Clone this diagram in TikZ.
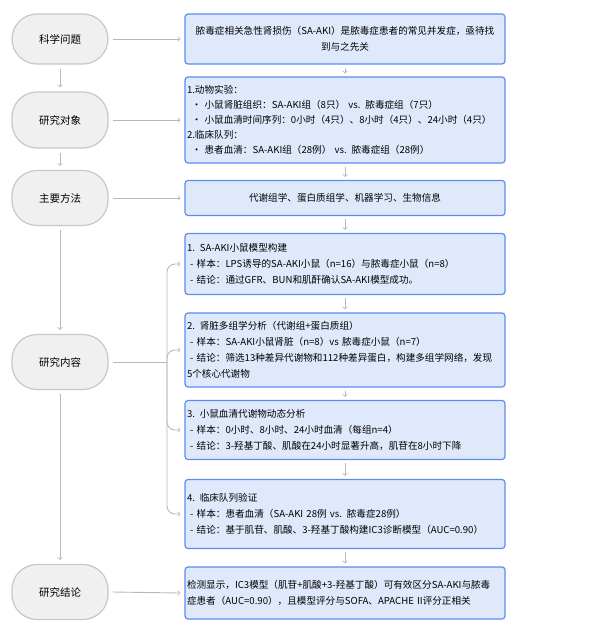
\documentclass[tikz,border=0pt]{standalone}
\usepackage{fontspec}
\setmainfont{Noto Sans CJK SC}
\XeTeXlinebreaklocale "zh"
\XeTeXlinebreakskip=0pt
\usepackage{tikz}
\usetikzlibrary{calc}
\usetikzlibrary{arrows}
\usetikzlibrary{positioning}
\definecolor{boxfill}{RGB}{224, 233, 252}
\definecolor{boxline}{RGB}{92, 140, 238}
\definecolor{pillfill}{RGB}{240, 240, 240}
\definecolor{pillline}{RGB}{200, 200, 200}
\definecolor{arrowgray}{RGB}{185, 185, 185}
\tikzset{
    pill/.style={draw=pillline, fill=pillfill, line width=1.2pt, rounded corners=25pt,
                 minimum width=96pt, font=\fontsize{10.5}{12}\selectfont},
    infobox/.style={draw=boxline, fill=boxfill, line width=1.2pt, rounded corners=3pt,
                    minimum width=320pt, text width=316pt, inner xsep=2pt,
                    font=\fontsize{9.6}{16}\selectfont},
    flow/.style={draw=arrowgray, line width=0.9pt, -to}
}

\begin{document}
\begin{tikzpicture}[x=1pt, y=-1pt]
            \useasboundingbox (0,0) rectangle (600,634);
            % left column
            \node[pill, minimum height=50pt] (q1) at (60, 39)  {科学问题};
            \node[pill, minimum height=56pt] (q2) at (60, 120) {研究对象};
            \node[pill, minimum height=55pt] (q3) at (60, 198) {主要方法};
            \node[pill, minimum height=55pt] (q4) at (60, 362) {研究内容};
            \node[pill, minimum height=55pt] (q5) at (60, 592) {研究结论};
            % right column
            \node[infobox, align=center, minimum height=50pt] (b1) at (345, 39)
                 {脓毒症相关急性肾损伤（SA-AKI）是脓毒症患者的常见并发症，亟待找\\到与之先关};
            \node[infobox, align=left, minimum height=86pt, font=\fontsize{9.6}{15}\selectfont] (b2) at (345, 120)
                 {1.动物实验：\\
                  \ \,• 小鼠肾脏组织：SA-AKI组（8只） vs. 脓毒症组（7只）\\
                  \ \,• 小鼠血清时间序列：0小时（4只）、8小时（4只）、24小时（4只）\\
                  2.临床队列：\\
                  \ \,• 患者血清：SA-AKI组（28例） vs. 脓毒症组（28例）};
            \node[infobox, align=center, minimum height=35pt] (b3) at (345, 198)
                 {代谢组学、蛋白质组学、机器学习、生物信息};
            \node[infobox, align=left, minimum height=61pt] (b4) at (345, 264)
                 {1. SA-AKI小鼠模型构建\\
                  \ - 样本：LPS诱导的SA-AKI小鼠（n=16）与脓毒症小鼠（n=8）\\
                  \ - 结论：通过GFR、BUN和肌酐确认SA-AKI模型成功。};
            \node[infobox, align=left, minimum height=74pt] (b5) at (345, 350)
                 {2. 肾脏多组学分析（代谢组+蛋白质组）\\
                  \ - 样本：SA-AKI小鼠肾脏（n=8）vs 脓毒症小鼠（n=7）\\
                  \ - 结论：筛选13种差异代谢物和112种差异蛋白，构建多组学网络，发现\\5个核心代谢物};
            \node[infobox, align=left, minimum height=59pt] (b6) at (345, 430)
                 {3. 小鼠血清代谢物动态分析\\
                  \ - 样本：0小时、8小时、24小时血清（每组n=4）\\
                  \ - 结论：3-羟基丁酸、肌酸在24小时显著升高，肌苷在8小时下降};
            \node[infobox, align=left, minimum height=69pt] (b7) at (345, 514)
                 {4. 临床队列验证\\
                  \ - 样本：患者血清（SA-AKI 28例 vs. 脓毒症28例）\\
                  \ - 结论：基于肌苷、肌酸、3-羟基丁酸构建IC3诊断模型（AUC=0.90）};
            \node[infobox, align=left, minimum height=52pt] (b8) at (345, 593)
                 {检测显示，IC3模型（肌苷+肌酸+3-羟基丁酸）可有效区分SA-AKI与脓毒\\症患者（AUC=0.90），且模型评分与SOFA、APACHE II评分正相关};
            % arrows down the left
            \foreach \a/\b in {q1/q2, q2/q3, q3/q4, q4/q5}
                \draw[flow] ($(\a.south)+(0,4)$) -- ($(\b.north)+(0,-4)$);
            % arrows down the right
            \foreach \a/\b in {b1/b2, b2/b3, b3/b4, b4/b5, b5/b6, b6/b7, b7/b8}
                \draw[flow] ($(\a.south)+(0,3)$) -- ($(\b.north)+(0,-3)$);
            % arrows across
            \foreach \a/\b in {q1/b1, q2/b2, q3/b3, q5/b8}
                \draw[flow] ($(\a.east)+(4,0)$) -- ($(\b.west)+(-4,0)$);
            % bracket into the content boxes
            \coordinate (fork) at (167, 362);
            \draw[arrowgray, line width=0.9pt] ($(q4.east)+(4,0)$) -- (fork);
            \foreach \b in {b4, b5, b6, b7}
                \draw[flow, rounded corners=8pt] (fork) |- ($(\b.west)+(-4,0)$);
        \end{tikzpicture}
\end{document}
